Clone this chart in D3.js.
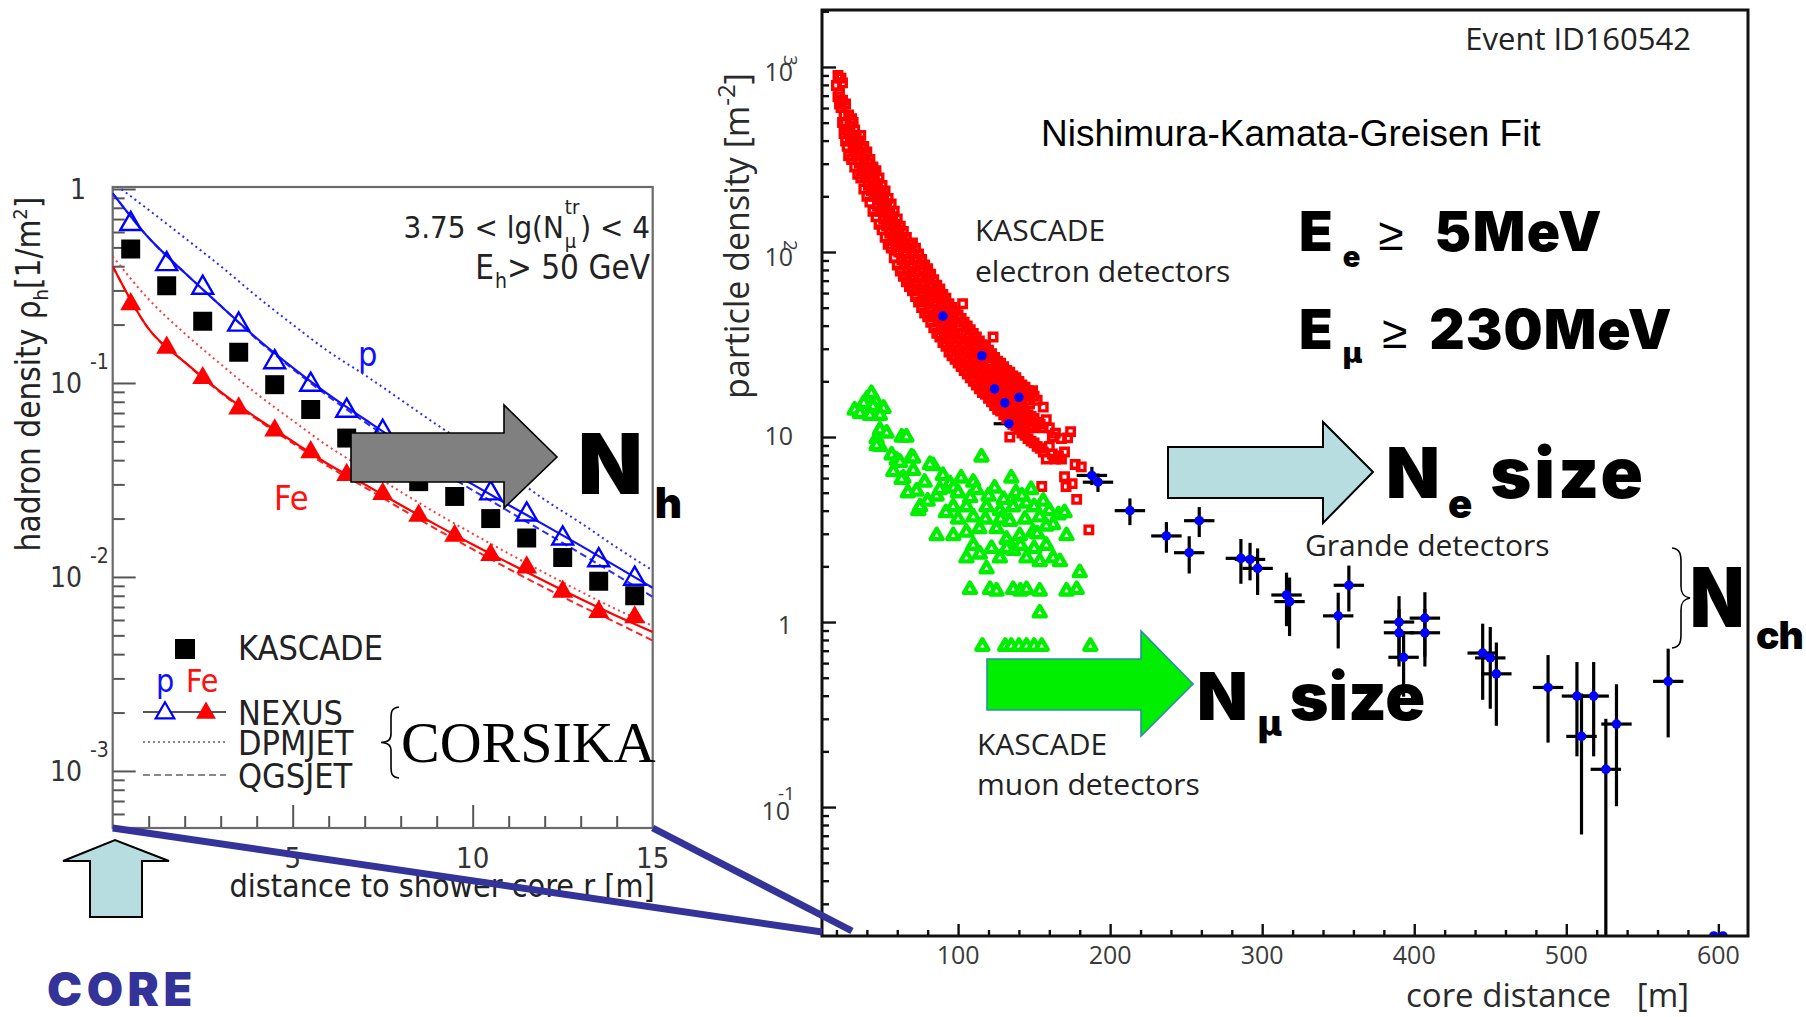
<!DOCTYPE html>
<html>
<head>
<meta charset="utf-8">
<title>Hadron and particle lateral distributions</title>
<script src="https://cdn.jsdelivr.net/npm/d3@7/dist/d3.min.js"></script>
<style>
  html, body { margin: 0; padding: 0; background: #fff; }
  svg { display: block; }
</style>
</head>
<body>
<svg id="fig" width="1806" height="1017" xmlns="http://www.w3.org/2000/svg"></svg>
<script>
// ===== Left panel: hadron lateral distribution (3.75 < lg(N_mu^tr) < 4, E_h > 50 GeV) =====
const hadronR = [0.5, 1.5, 2.5, 3.5, 4.5, 5.5, 6.5, 7.5, 8.5, 9.5, 10.5, 11.5, 12.5, 13.5, 14.5];
const kascadeHadron = [0.49, 0.317, 0.208, 0.144, 0.098, 0.073, 0.052, 0.040, 0.031, 0.026, 0.020, 0.0159, 0.0126, 0.0095, 0.008];
const nexusProton = [0.66, 0.41, 0.31, 0.20, 0.128, 0.098, 0.072, 0.056, 0.045, 0.035, 0.027, 0.021, 0.0158, 0.0122, 0.0098];
const nexusIron = [0.255, 0.152, 0.106, 0.074, 0.057, 0.044, 0.0336, 0.0268, 0.0207, 0.0163, 0.0130, 0.0112, 0.0084, 0.0066, 0.0062];

const curveR = [0, 1, 2, 3, 4, 5, 6, 7, 8, 9, 10, 11, 12, 13, 14, 15];
const nexusProtonFit = [0.95, 0.56, 0.37, 0.25, 0.17, 0.12, 0.087, 0.065, 0.049, 0.038, 0.030, 0.0235, 0.0185, 0.0145, 0.0113, 0.0088];
const nexusIronFit = [0.40, 0.19, 0.128, 0.090, 0.066, 0.050, 0.038, 0.030, 0.0235, 0.0185, 0.0147, 0.0118, 0.0095, 0.0077, 0.0063, 0.0052];
const dpmjetProton = [1.08, 0.78, 0.56, 0.40, 0.28, 0.20, 0.145, 0.11, 0.082, 0.061, 0.046, 0.034, 0.025, 0.019, 0.0142, 0.0108];
const dpmjetIron = [0.45, 0.27, 0.18, 0.125, 0.088, 0.064, 0.047, 0.036, 0.0275, 0.0213, 0.0167, 0.0132, 0.0105, 0.0084, 0.0068, 0.0056];
const qgsjetProton = [0.95, 0.56, 0.37, 0.25, 0.168, 0.118, 0.085, 0.063, 0.047, 0.036, 0.028, 0.0218, 0.0170, 0.0132, 0.0102, 0.0079];
const qgsjetIron = [0.40, 0.19, 0.128, 0.089, 0.065, 0.049, 0.037, 0.029, 0.0225, 0.0176, 0.0139, 0.0110, 0.0088, 0.0071, 0.0058, 0.0047];

const hadronYTicks = [1, 0.1, 0.01, 0.001];
const hadronXTicks = [5, 10, 15];
const legendModels = ["NEXUS", "DPMJET", "QGSJET"];

// ===== Right panel: event ID160542, particle densities vs core distance =====
// KASCADE electron detectors: [core distance (m), density (m^-2)]
const electronHits = [
  [21, 900], [23, 870], [24, 820], [20, 794], [22, 724], [21, 690], [23, 640], [22, 631], [23, 603], [24, 661],
  [24, 501], [25, 437], [25, 550], [26, 398], [26, 501], [26, 631], [27, 372], [27, 457], [28, 331], [28, 437], [28, 550],
  [29, 398], [29, 479], [30, 316], [30, 417], [30, 525], [31, 363], [31, 501], [32, 288], [32, 380], [32, 457],
  [33, 331], [33, 427], [34, 263], [34, 355], [35, 302], [35, 398], [36, 251], [36, 331], [36, 427], [37, 282], [37, 363],
  [38, 219], [38, 295], [38, 372], [39, 257], [39, 331], [40, 200], [40, 263], [40, 347], [41, 229], [41, 302],
  [42, 186], [42, 251], [42, 316], [43, 214], [43, 282], [44, 166], [44, 224], [44, 288], [45, 200], [45, 263],
  [46, 155], [46, 204], [46, 275], [47, 178], [47, 234], [48, 141], [48, 191], [48, 251], [49, 166], [49, 214],
  [50, 132], [50, 174], [50, 229], [51, 151], [51, 200], [52, 120], [52, 162], [52, 214], [53, 138], [53, 182],
  [54, 110], [54, 148], [54, 195], [55, 126], [55, 166], [56, 105], [56, 138], [56, 182], [57, 117], [57, 155],
  [58, 93], [58, 126], [58, 166], [59, 110], [59, 141], [60, 85], [60, 115], [60, 151], [61, 100], [61, 132],
  [62, 79], [62, 107], [62, 138], [63, 91], [63, 120], [64, 74], [64, 98], [64, 129], [65, 85], [65, 112],
  [66, 69], [66, 91], [66, 120], [67, 79], [67, 105], [68, 65], [68, 85], [68, 110], [69, 74], [69, 98],
  [70, 61.7], [70, 83.2], [70, 112], [71, 72.4], [71, 97.7], [72, 57.5], [72, 77.6], [72, 105], [73, 67.6], [73, 91.2],
  [74, 53.7], [74, 72.4], [74, 97.7], [75, 63.1], [75, 85.1], [76, 50.1], [76, 67.6], [76, 91.2], [77, 58.9], [77, 79.4],
  [78, 46.8], [78, 63.1], [78, 85.1], [79, 55], [79, 74.1], [80, 44.7], [80, 60.3], [80, 81.3], [81, 52.5], [81, 70.8],
  [82, 41.7], [82, 56.2], [82, 75.9], [83, 49], [83, 66.1], [84, 38.9], [84, 52.5], [84, 70.8], [85, 45.7], [85, 61.7],
  [86, 36.3], [86, 49], [86, 66.1], [87, 42.7], [87, 57.5], [88, 34.7], [88, 46.8], [88, 63.1], [89, 40.7], [89, 55],
  [90, 32.4], [90, 43.7], [90, 58.9], [91, 38], [91, 51.3], [92, 30.9], [92, 41.7], [92, 56.2], [93, 36.3], [93, 49],
  [94, 28.8], [94, 38.9], [94, 52.5], [95, 33.9], [95, 45.7], [96, 27.5], [96, 37.2], [96, 50.1], [97, 32.4], [97, 43.7],
  [98, 26.3], [98, 35.5], [98, 47.9], [99, 30.9], [99, 41.7], [100, 25.1], [100, 33.9], [100, 45.7], [101, 29.5], [101, 39.8],
  [102, 24], [102, 32.4], [102, 43.7], [103, 28.2], [103, 52.5], [104, 22.9], [104, 30.9], [104, 41.7], [105, 26.9], [105, 36.3],
  [106, 21.9], [106, 29.5], [106, 39.8], [107, 25.7], [107, 34.7], [108, 20.9], [108, 28.2], [108, 38], [109, 24.5], [109, 33.1],
  [110, 20], [110, 26.9], [110, 36.3], [111, 23.4], [111, 31.6], [112, 19.1], [112, 25.7], [112, 34.7], [113, 22.4], [113, 30.2],
  [114, 18.2], [114, 24.5], [114, 33.1], [115, 21.4], [115, 28.8], [116, 17.4], [116, 23.4], [116, 31.6], [117, 20.4], [117, 27.5],
  [118, 17], [118, 22.9], [118, 30.9], [119, 20], [119, 26.9], [120, 16.2], [120, 21.9], [120, 29.5], [121, 19.1], [121, 25.7],
  [122, 15.5], [122, 20.9], [122, 28.2], [123, 18.2], [123, 34.7], [124, 14.8], [124, 20], [124, 26.9], [125, 17.4], [125, 23.4],
  [126, 14.1], [126, 19.1], [126, 25.7], [127, 16.6], [127, 22.4], [128, 13.8], [128, 18.6], [128, 25.1], [129, 16.2], [129, 21.9],
  [130, 13.2], [130, 17.8], [130, 24], [131, 15.5], [131, 20.9], [132, 12.6], [132, 17], [132, 22.9], [133, 14.8], [133, 20],
  [134, 12.3], [134, 16.6], [134, 22.4], [134, 10], [135, 14.5], [135, 19.5], [136, 11.7], [136, 15.8], [136, 21.4],
  [137, 13.8], [137, 18.6], [138, 11.5], [138, 15.5], [138, 20.9], [139, 13.5], [139, 18.2], [140, 11], [140, 14.8], [140, 20],
  [141, 12.9], [141, 17.4], [142, 10.5], [142, 14.1], [142, 19.1], [143, 12.3], [143, 16.6], [144, 10.2], [144, 13.8], [144, 18.6],
  [145, 12], [145, 15.8], [146, 9.8], [146, 13.2], [146, 17.8], [147, 11.5], [147, 15.1], [148, 9.5], [148, 12.9], [148, 17.4],
  [149, 11.2], [149, 17.8], [150, 9.3], [150, 12.6], [150, 16.6], [152, 8.9], [152, 12], [152, 15.8], [154, 8.7], [154, 11.7],
  [155, 5.4], [156, 8.3], [156, 11.2], [156, 14.5], [158, 7.6], [158, 12.4], [160, 8.9], [160, 11.2], [162, 8.1], [162, 10],
  [164, 7.6], [164, 10.5], [166, 7.9], [168, 7.6], [168, 9.8], [170, 6.1], [170, 8.3], [171, 5.4], [172, 9.9], [174, 10.7],
  [175, 5.6], [177, 7.1], [178, 4.6], [181, 6.9], [186, 3.15]
];

// KASCADE muon detectors: [core distance (m), density (m^-2)]
const muonHits = [
  [32, 14], [40, 16], [46, 15.5], [43, 17.2], [38, 15.2], [44, 14.6], [51, 14.3], [35.5, 13.4], [42, 13.1], [48.6, 13.1],
  [48.6, 10.9], [46.4, 9.8], [53, 10.5], [63, 10], [66, 10], [48.6, 8.9], [46.4, 9.0],
  [56.3, 8.0], [59.6, 7.5], [69.4, 7.8], [61.8, 7.3], [70.5, 7.7], [83.6, 7.0], [57.4, 6.5], [64, 6.0], [62.9, 5.9],
  [70.5, 6.6], [81.5, 7.1], [72.7, 5.1], [73.8, 4.0], [75, 4.2], [85.9, 4.8], [88, 5.2], [94.6, 5.6], [110, 5.7],
  [115.4, 7.8], [135, 6.0], [90, 6.2], [102, 6.0], [97, 5.3], [78, 5.7], [80, 4.5], [67, 5.0],
  [96.8, 4.2], [105.5, 4.2], [118.7, 4.2], [127.5, 4.0], [136.2, 4.2], [145, 4.4], [153.7, 3.7], [162.5, 3.36], [171.3, 2.93],
  [85.9, 2.93], [96.8, 2.93], [105.5, 3.06], [114, 3.2], [125.3, 3.2], [131.9, 2.8], [140.6, 2.93], [149.3, 3.06],
  [100, 5.0], [108, 4.7], [112, 5.2], [120, 4.8], [124, 5.3], [130, 4.6], [138, 5.0], [142, 4.8], [148, 5.2], [150, 4.2],
  [156, 4.5], [160, 4.0], [166, 3.8], [170, 3.9], [158, 3.3], [128, 3.6], [118, 3.6], [110, 3.7], [100, 3.6], [92, 3.9],
  [134, 3.5], [144, 3.6], [152, 3.0],
  [105.5, 2.22], [114.3, 2.33], [118.7, 1.94], [127.5, 2.22], [136.2, 2.44], [145, 2.22], [153.7, 2.12], [162.5, 2.22],
  [167, 2.12], [180, 1.85], [110, 2.6], [122, 2.5], [132, 2.5], [141, 2.6], [150, 2.5], [158, 2.6],
  [107.8, 1.5], [121, 1.5], [125.3, 1.47], [136.2, 1.5], [141, 1.47], [145, 1.5], [153.7, 1.47], [171.3, 1.47], [178, 1.5],
  [153.7, 1.12],
  [116, 0.74], [131, 0.74], [135, 0.74], [140, 0.74], [145, 0.74], [150, 0.74], [155, 0.74], [187, 0.74]
];

// KASCADE-Grande stations: core distance (m), density (m^-2), density uncertainty
const grandeR = [90, 115.6, 124, 130.7, 140, 133.4, 188, 192, 213, 237, 258.6, 252, 286, 292, 297, 316, 318, 357, 350,
  390, 390, 407, 407, 393, 445, 450, 454, 488, 507, 518, 510, 533, 526, 567, 597, 603];
const grandeDensity = [45, 27.5, 18.2, 15.3, 16.4, 11.8, 6.2, 5.7, 4.0, 2.92, 3.53, 2.37, 2.21, 2.18, 1.95, 1.40, 1.29, 1.58, 1.08,
  1.0, 0.875, 1.05, 0.875, 0.645, 0.68, 0.64, 0.525, 0.443, 0.398, 0.398, 0.241, 0.281, 0.16, 0.478, 0.0201, 0.0201];
const grandeError = [1.5, 1.0, 0.8, 0.7, 0.7, 0.6, 0.7, 0.65, 0.66, 0.55, 0.65, 0.54, 0.6, 0.5, 0.55, 0.45, 0.45, 0.44, 0.36,
  0.38, 0.3, 0.4, 0.3, 0.25, 0.3, 0.3, 0.25, 0.22, 0.21, 0.21, 0.17, 0.18, 0.14, 0.24, 0, 0];
const grandeDistanceError = 10;

const eventYTicks = [1000, 100, 10, 1, 0.1];
const eventXTicks = [100, 200, 300, 400, 500, 600];

// ===== Fonts and colours =====
const NARROW = "'Liberation Sans Narrow','Arial Narrow','DejaVu Sans Condensed',sans-serif";
const HUMANIST = "'Open Sans','Noto Sans',sans-serif";
const ARIAL = "'Liberation Sans',Arial,sans-serif";
const HEAVY = "Inter,'Liberation Sans',Arial,sans-serif";
const SERIF = "'Liberation Serif','Times New Roman',serif";
const NAVY = "#333399";

const svg = d3.select("#fig");
svg.append("rect").attr("width", 1806).attr("height", 1017).attr("fill", "#fff");

// rich text helper: pieces laid out left to right; "stack" pieces share the x of the previous piece
function rich(parent, x, y, pieces, opts = {}) {
  const g = parent.append("g");
  let cx = 0, lastStart = 0;
  for (const p of pieces) {
    const start = p.stack ? lastStart : cx + (p.dx || 0);
    const t = g.append("text")
      .attr("x", start).attr("y", p.dy || 0)
      .attr("font-family", p.family || opts.family)
      .attr("font-size", p.size || opts.size)
      .attr("font-weight", p.weight || opts.weight || "normal")
      .attr("fill", p.fill || opts.fill || "#000")
      .text(p.t);
    const ls = p.spacing !== undefined ? p.spacing : opts.spacing;
    if (ls) t.attr("letter-spacing", ls);
    const w = t.node().getComputedTextLength();
    if (!p.stack) lastStart = start;
    cx = Math.max(cx, start + w);
  }
  const shift = opts.anchor === "end" ? -cx : opts.anchor === "middle" ? -cx / 2 : 0;
  g.attr("transform", `translate(${x + shift},${y})`);
  return g;
}
const isDecade = v => Math.abs(Math.log10(v) - Math.round(Math.log10(v))) < 1e-9;

// ===================== LEFT PANEL =====================
const xL = d3.scaleLinear().domain([0, 15]).range([112.7, 652.7]);
const yL = d3.scaleLog().domain([5.08e-4, 1.024]).range([828, 187]);
const left = svg.append("g");
const [lx0, lx1] = xL.range(), [ly1, ly0] = yL.range();

left.append("clipPath").attr("id", "clipL").append("rect")
  .attr("x", lx0).attr("y", ly0).attr("width", lx1 - lx0).attr("height", ly1 - ly0);

// axes (ticks pointing inward)
const styleAxis = (g, col, w) => { g.select(".domain").remove(); g.selectAll("line").attr("stroke", col).attr("stroke-width", w); };
left.append("g").attr("transform", `translate(${lx0},0)`)
  .call(d3.axisLeft(yL).tickValues(yL.ticks().filter(v => !isDecade(v))).tickSize(-12).tickFormat(""))
  .call(g => styleAxis(g, "#555", 2));
left.append("g").attr("transform", `translate(${lx0},0)`)
  .call(d3.axisLeft(yL).tickValues(hadronYTicks).tickSize(-23).tickFormat(""))
  .call(g => styleAxis(g, "#555", 2));
left.append("g").attr("transform", `translate(0,${ly1})`)
  .call(d3.axisBottom(xL).tickValues(d3.range(1, 15).filter(v => v % 5 !== 0)).tickSize(-12).tickFormat(""))
  .call(g => styleAxis(g, "#555", 2));
left.append("g").attr("transform", `translate(0,${ly1})`)
  .call(d3.axisBottom(xL).tickValues(hadronXTicks.filter(v => v < 15)).tickSize(-23).tickFormat(""))
  .call(g => styleAxis(g, "#555", 2));
left.append("rect").attr("x", lx0).attr("y", ly0).attr("width", lx1 - lx0).attr("height", ly1 - ly0)
  .attr("fill", "none").attr("stroke", "#6a6a6a").attr("stroke-width", 2.2);

// y tick labels
hadronYTicks.forEach(v => {
  const e = Math.round(Math.log10(v));
  const y = yL(v);
  if (e === 0) {
    left.append("text").attr("x", 86).attr("y", y + 10).attr("text-anchor", "end")
      .attr("font-family", NARROW).attr("font-size", 28).attr("fill", "#333").text("1");
  } else {
    left.append("text").attr("x", 82).attr("y", y + 10).attr("text-anchor", "end")
      .attr("font-family", NARROW).attr("font-size", 28).attr("fill", "#333").text("10");
    left.append("text").attr("x", 90).attr("y", y - 14)
      .attr("font-family", NARROW).attr("font-size", 21).attr("fill", "#333").text(String(e));
  }
});
// x tick labels
hadronXTicks.forEach(v => {
  left.append("text").attr("x", xL(v)).attr("y", ly1 + 40).attr("text-anchor", "middle")
    .attr("font-family", NARROW).attr("font-size", 29).attr("fill", "#333").text(v);
});
// axis titles
rich(left, 0, 0, [
  { t: "hadron density ρ" }, { t: "h", size: 20, dy: 8 }, { t: " [1/m", dx: 0 }, { t: "2", size: 20, dy: -13 }, { t: "]" }
], { family: NARROW, size: 33, fill: "#222" })
  .call(g => {
    const bb = g.node().getBBox();
    g.attr("transform", `translate(40,${374 + bb.width / 2}) rotate(-90)`);
  });
left.append("text").attr("x", lx1 + 2).attr("y", 897).attr("text-anchor", "end")
  .attr("font-family", NARROW).attr("font-size", 32).attr("fill", "#222").text("distance to shower core r [m]");

// model curves
const curve = vals => d3.line().x((d, i) => xL(curveR[i])).y(d => yL(d)).curve(d3.curveMonotoneX)(vals);
const curves = left.append("g").attr("clip-path", "url(#clipL)");
const curveSpecs = [
  [dpmjetProton, "#2a2aff", "2,3.5"], [dpmjetIron, "#ff3a3a", "2,3.5"],
  [qgsjetProton, "#2a2aff", "7,4"], [qgsjetIron, "#ff2020", "7,4"],
  [nexusProtonFit, "#1010ff", null], [nexusIronFit, "#ff0000", null]
];
curveSpecs.forEach(([vals, col, dash]) => {
  const p = curves.append("path").attr("d", curve(vals)).attr("fill", "none")
    .attr("stroke", col).attr("stroke-width", dash ? 2 : 2.2);
  if (dash) p.attr("stroke-dasharray", dash);
});

// data points
const sq = d3.symbol(d3.symbolSquare, 360);
const tri = d3.symbol(d3.symbolTriangle, 190);
const pts = left.append("g").attr("clip-path", "url(#clipL)");
hadronR.forEach((r, i) => {
  pts.append("path").attr("d", tri()).attr("transform", `translate(${xL(r)},${yL(nexusIron[i])})`).attr("fill", "#ff0000");
  pts.append("path").attr("d", tri()).attr("transform", `translate(${xL(r)},${yL(nexusProton[i])})`)
    .attr("fill", "none").attr("stroke", "#0000ff").attr("stroke-width", 2.4);
  pts.append("path").attr("d", sq()).attr("transform", `translate(${xL(r)},${yL(kascadeHadron[i])})`).attr("fill", "#000");
});

// inset labels
rich(left, 650, 238, [
  { t: "3.75 < lg(N" }, { t: "μ", size: 20, dy: 10, dx: 1 }, { t: "tr", size: 20, dy: -24, stack: true }, { t: ") < 4", dx: 1 }
], { family: NARROW, size: 31, fill: "#222", anchor: "end" });
rich(left, 650, 279, [
  { t: "E" }, { t: "h", size: 21, dy: 9, dx: 1 }, { t: " > 50 GeV" }
], { family: NARROW, size: 33, fill: "#222", anchor: "end" });
left.append("text").attr("x", 358).attr("y", 366).attr("font-family", NARROW).attr("font-size", 34).attr("fill", "#1010ff").text("p");
left.append("text").attr("x", 274).attr("y", 510).attr("font-family", NARROW).attr("font-size", 34).attr("fill", "#ff1010").text("Fe");

// legend
const lg = left.append("g");
lg.append("path").attr("d", d3.symbol(d3.symbolSquare, 400)()).attr("transform", "translate(185,649)").attr("fill", "#000");
lg.append("text").attr("x", 238).attr("y", 660).attr("font-family", NARROW).attr("font-size", 34).attr("fill", "#222").text("KASCADE");
lg.append("text").attr("x", 156).attr("y", 692).attr("font-family", NARROW).attr("font-size", 32).attr("fill", "#1010ff").text("p");
lg.append("text").attr("x", 186).attr("y", 692).attr("font-family", NARROW).attr("font-size", 32).attr("fill", "#ff1010").text("Fe");
const legendY = [712, 742, 775];
const legendDash = [null, "2,3", "7,4"];
legendModels.forEach((m, i) => {
  const ln = lg.append("line").attr("x1", 143).attr("x2", 226).attr("y1", legendY[i]).attr("y2", legendY[i])
    .attr("stroke", i === 0 ? "#555" : "#888").attr("stroke-width", 2);
  if (legendDash[i]) ln.attr("stroke-dasharray", legendDash[i]);
  lg.append("text").attr("x", 238).attr("y", legendY[i] + 13).attr("font-family", NARROW).attr("font-size", 34)
    .attr("fill", "#222").text(m);
});
lg.append("path").attr("d", d3.symbol(d3.symbolTriangle, 150)()).attr("transform", "translate(165,713)")
  .attr("fill", "#fff").attr("stroke", "#0000ff").attr("stroke-width", 2.2);
lg.append("path").attr("d", d3.symbol(d3.symbolTriangle, 170)()).attr("transform", "translate(206,713)").attr("fill", "#ff0000");

// CORSIKA brace
left.append("path").attr("d", "M399,707 C391,708 391,712 391,720 L391,734 C391,740 388,742 381,742.5 C388,743 391,745 391,751 L391,765 C391,773 391,777 399,778")
  .attr("fill", "none").attr("stroke", "#000").attr("stroke-width", 1.6);
left.append("text").attr("x", 401).attr("y", 762).attr("font-family", SERIF).attr("font-size", 58).attr("fill", "#000").text("CORSIKA");

// ===================== RIGHT PANEL =====================
const xR = d3.scaleLinear().domain([10.5, 619.5]).range([822, 1748]);
const yR = d3.scaleLog().domain([0.0201, 2032]).range([936, 10]);
const right = svg.append("g");
const [rx0, rx1] = xR.range(), [ry1, ry0] = yR.range();
right.append("clipPath").attr("id", "clipR").append("rect")
  .attr("x", rx0).attr("y", ry0).attr("width", rx1 - rx0).attr("height", ry1 - ry0);

right.append("g").attr("transform", `translate(${rx0},0)`)
  .call(d3.axisLeft(yR).tickValues(yR.ticks().filter(v => !isDecade(v))).tickSize(-7).tickFormat(""))
  .call(g => styleAxis(g, "#111", 2.4));
right.append("g").attr("transform", `translate(${rx0},0)`)
  .call(d3.axisLeft(yR).tickValues(eventYTicks).tickSize(-14).tickFormat(""))
  .call(g => styleAxis(g, "#111", 2.4));
right.append("g").attr("transform", `translate(0,${ry1})`)
  .call(d3.axisBottom(xR).tickValues(d3.range(20, 620, 20).filter(v => v % 100 !== 0)).tickSize(-6).tickFormat(""))
  .call(g => styleAxis(g, "#111", 2.4));
right.append("g").attr("transform", `translate(0,${ry1})`)
  .call(d3.axisBottom(xR).tickValues(eventXTicks).tickSize(-12).tickFormat(""))
  .call(g => styleAxis(g, "#111", 2.4));

// y tick labels (positive exponents drawn turned, as in the event display)
eventYTicks.forEach(v => {
  const e = Math.round(Math.log10(v));
  const y = yR(v);
  const lab = right.append("g").attr("font-family", HUMANIST).attr("fill", "#3a3a3a");
  if (e === 0) {
    lab.append("text").attr("x", 792).attr("y", y + 12).attr("text-anchor", "end").attr("font-size", 25).text("1");
  } else if (e === 1) {
    lab.append("text").attr("x", 793).attr("y", y + 8).attr("text-anchor", "end").attr("font-size", 25).text("10");
  } else if (e > 1) {
    lab.append("text").attr("x", 793).attr("y", y + 14).attr("text-anchor", "end").attr("font-size", 25).text("10");
    lab.append("text").attr("transform", `translate(784,${y - 12}) rotate(90)`).attr("font-size", 19).text(String(e));
  } else {
    lab.append("text").attr("x", 790).attr("y", y + 13).attr("text-anchor", "end").attr("font-size", 25).text("10");
    lab.append("text").attr("x", 778).attr("y", y - 7).attr("font-size", 19).text(String(e));
  }
});
eventXTicks.forEach(v => {
  right.append("text").attr("x", xR(v)).attr("y", 964).attr("text-anchor", "middle")
    .attr("font-family", HUMANIST).attr("font-size", 25).attr("fill", "#3a3a3a").text(v);
});
right.append("text").attr("x", 1689).attr("y", 1007).attr("text-anchor", "end").attr("xml:space", "preserve")
  .attr("font-family", HUMANIST).attr("font-size", 33).attr("fill", "#2a2a2a").text("core distance   [m]");
rich(right, 0, 0, [
  { t: "particle density  [m" }, { t: "-2", size: 24, dy: -14 }, { t: "]" }
], { family: HUMANIST, size: 34, fill: "#2a2a2a" }).call(g => {
  const bb = g.node().getBBox();
  g.attr("transform", `translate(749,${236 + bb.width / 2}) rotate(-90)`);
});

// data: error bars first, detector hits, then station markers on top
const dataR = right.append("g").attr("clip-path", "url(#clipR)");
const bars = dataR.append("g");
grandeR.forEach((r, i) => {
  const v = grandeDensity[i], s = grandeError[i];
  if (s > 0) {
    bars.append("line").attr("x1", xR(r)).attr("x2", xR(r))
      .attr("y1", yR(Math.max(v - s, 0.0201))).attr("y2", yR(v + s))
      .attr("stroke", "#000").attr("stroke-width", 3.2);
    bars.append("line").attr("x1", xR(r - grandeDistanceError)).attr("x2", xR(r + grandeDistanceError))
      .attr("y1", yR(v)).attr("y2", yR(v)).attr("stroke", "#000").attr("stroke-width", 3.2);
  }
});
const hollowSq = d3.symbol(d3.symbolSquare, 56);
electronHits.forEach(([r, v]) => {
  dataR.append("path").attr("d", hollowSq()).attr("transform", `translate(${xR(r)},${yR(v)})`)
    .attr("fill", "none").attr("stroke", "#ff0000").attr("stroke-width", 3.4);
});
const muTri = d3.symbol(d3.symbolTriangle, 62);
muonHits.forEach(([r, v]) => {
  dataR.append("path").attr("d", muTri()).attr("transform", `translate(${xR(r)},${yR(v)})`)
    .attr("fill", "#fff").attr("stroke", "#00ee00").attr("stroke-width", 4.4).attr("stroke-linejoin", "round");
});
grandeR.forEach((r, i) => {
  dataR.append("circle").attr("cx", xR(r)).attr("cy", yR(grandeDensity[i])).attr("r", 4.8).attr("fill", "#0000ff");
});

right.append("rect").attr("x", rx0).attr("y", ry0).attr("width", rx1 - rx0).attr("height", ry1 - ry0)
  .attr("fill", "none").attr("stroke", "#111").attr("stroke-width", 3);

// panel annotations
right.append("text").attr("x", 1691).attr("y", 50).attr("text-anchor", "end")
  .attr("font-family", HUMANIST).attr("font-size", 31).attr("fill", "#222").text("Event ID160542");
right.append("text").attr("x", 1041).attr("y", 146)
  .attr("font-family", ARIAL).attr("font-size", 37).attr("fill", "#000").text("Nishimura-Kamata-Greisen Fit");
right.append("text").attr("x", 975).attr("y", 241).attr("font-family", HUMANIST).attr("font-size", 30).attr("fill", "#222").text("KASCADE");
right.append("text").attr("x", 975).attr("y", 282).attr("font-family", HUMANIST).attr("font-size", 30).attr("fill", "#222").text("electron detectors");
right.append("text").attr("x", 977).attr("y", 755).attr("font-family", HUMANIST).attr("font-size", 30).attr("fill", "#222").text("KASCADE");
right.append("text").attr("x", 977).attr("y", 795).attr("font-family", HUMANIST).attr("font-size", 30).attr("fill", "#222").text("muon detectors");
right.append("text").attr("x", 1305).attr("y", 556).attr("font-family", HUMANIST).attr("font-size", 30).attr("fill", "#222").text("Grande detectors");

// energy thresholds
rich(right, 1299, 251, [
  { t: "E" }, { t: "e", size: 29, dy: 16, dx: 10 }, { t: "≥", size: 46, weight: "normal", family: ARIAL, dx: 18, dy: -1 },
  { t: "5MeV", dx: 31, spacing: 1.5 }
], { family: HEAVY, size: 55, weight: 900 });
rich(right, 1299, 349, [
  { t: "E" }, { t: "μ", size: 29, dy: 14, dx: 10 }, { t: "≥", size: 46, weight: "normal", family: ARIAL, dx: 20, dy: -1 },
  { t: "230MeV", dx: 22, spacing: 1 }
], { family: HEAVY, size: 55, weight: 900 });

// ===================== ARROWS, BRACES, CONNECTORS =====================
const ann = svg.append("g");
const arrow = (pts, fill, stroke, sw) => ann.append("polygon")
  .attr("points", pts.map(p => p.join(",")).join(" "))
  .attr("fill", fill).attr("stroke", stroke).attr("stroke-width", sw).attr("stroke-linejoin", "miter");

// hadron arrow -> N_h
arrow([[351, 433], [504, 433], [504, 405], [557, 457], [504, 508], [504, 482], [351, 482]], "#808080", "#000", 1.6);
rich(ann, 578, 494, [{ t: "N" }, { t: "h", size: 42, dy: 24, dx: 12 }], { family: HEAVY, size: 84, weight: 900 });

// electron arrow -> N_e size
arrow([[1168, 447], [1323, 447], [1323, 422], [1373, 472], [1323, 523], [1323, 498], [1168, 498]], "#b7dde0", "#000", 2);
rich(ann, 1386, 498, [{ t: "N" }, { t: "e", size: 40, dy: 20, dx: 8 }, { t: "size", dx: 18, spacing: 3 }], { family: HEAVY, size: 70, weight: 900 });

// muon arrow -> N_mu size
arrow([[987, 659], [1141, 659], [1141, 631], [1193, 684], [1141, 736], [1141, 710], [987, 710]], "#00ee00", "#2a8fa0", 1.6);
rich(ann, 1197, 720, [{ t: "N" }, { t: "μ", size: 36, dy: 16, dx: 10 }, { t: "size", dx: 8 }], { family: HEAVY, size: 66, weight: 900 });

// N_ch brace
ann.append("path").attr("d", "M1672,548 C1680,549 1681,554 1681,562 L1681,586 C1681,594 1684,597 1690,598 C1684,599 1681,602 1681,610 L1681,634 C1681,642 1680,647 1672,648")
  .attr("fill", "none").attr("stroke", "#000").attr("stroke-width", 1.6);
ann.append("text").attr("transform", "translate(1690,627) scale(0.86,1)").attr("font-family", HEAVY)
  .attr("font-size", 82).attr("font-weight", 900).text("N");
ann.append("text").attr("x", 1756).attr("y", 649).attr("font-family", HEAVY)
  .attr("font-size", 39).attr("font-weight", 900).attr("letter-spacing", -1).text("ch");

// connectors from the zoomed hadron panel to the event display
ann.append("line").attr("x1", lx0).attr("y1", ly1).attr("x2", rx0).attr("y2", 932)
  .attr("stroke", NAVY).attr("stroke-width", 7);
ann.append("line").attr("x1", lx1).attr("y1", ly1).attr("x2", 852).attr("y2", 931)
  .attr("stroke", NAVY).attr("stroke-width", 7);

// core arrow
arrow([[90, 917], [90, 861], [63, 861], [115, 840], [169, 861], [142, 861], [142, 917]], "#b7dde0", "#000", 2);
ann.append("text").attr("x", 47).attr("y", 1006).attr("font-family", HEAVY).attr("font-size", 47)
  .attr("font-weight", 900).attr("letter-spacing", 4.5).attr("fill", NAVY).text("CORE");
</script>
</body>
</html>
